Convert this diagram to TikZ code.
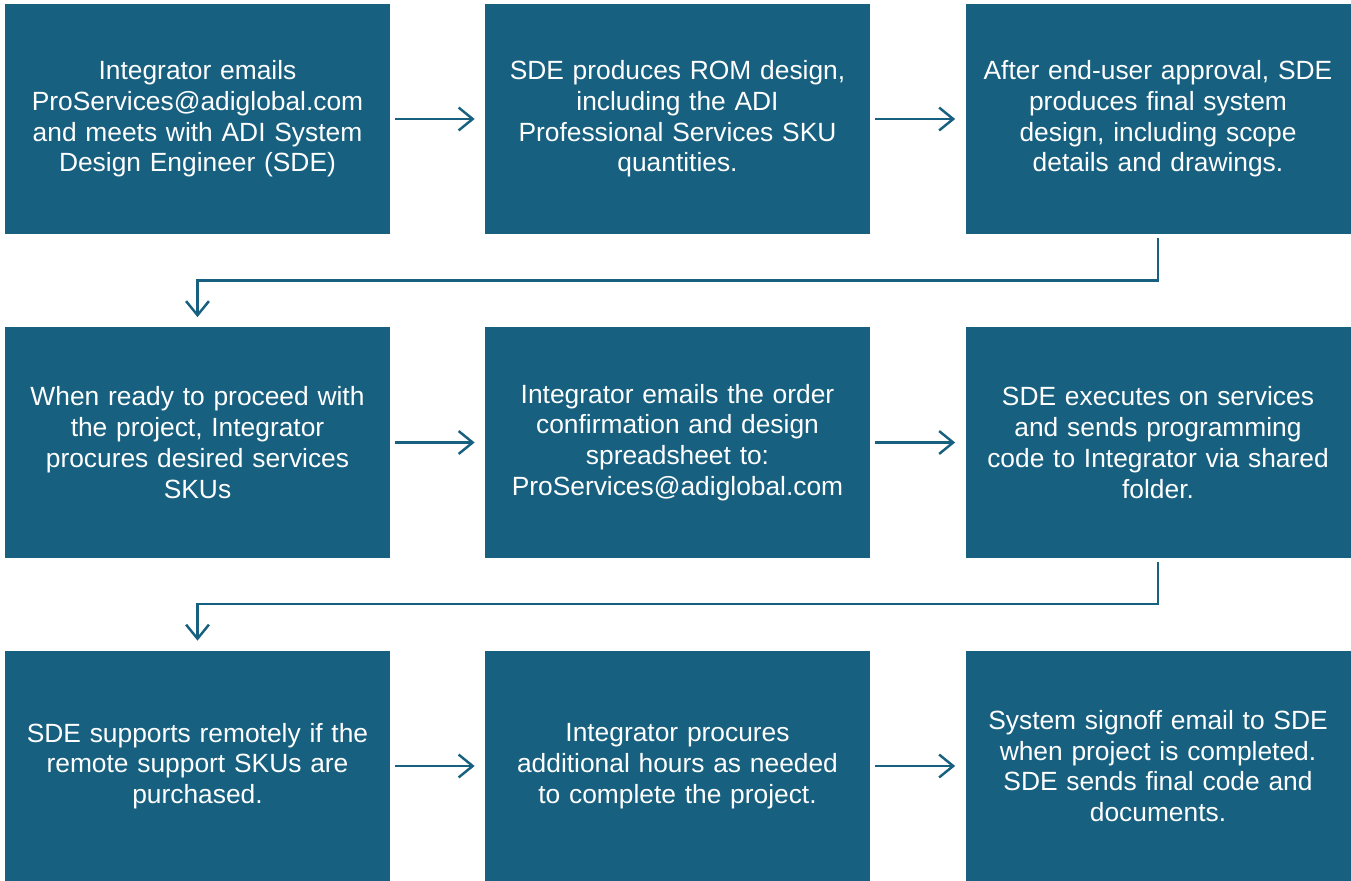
\documentclass[tikz,border=0pt]{standalone}
\usepackage{fontspec}
\setmainfont{Liberation Sans}
\usetikzlibrary{arrows.meta}
\definecolor{adiblue}{RGB}{23,96,128}

\begin{document}
\begin{tikzpicture}[
  stepbox/.style={fill=adiblue, text=white, minimum width=7.7cm, minimum height=4.6cm,
    text width=7.6cm, align=center, inner sep=0pt, font=\fontsize{15}{17.5}\selectfont},
  flow/.style={draw=adiblue, line width=1.4pt, -{Straight Barb[length=8pt,width=13pt]}}
]

\useasboundingbox (0,0) rectangle (27.02,17.6);

% Row 1
\node[stepbox] (a1) at (3.95,15.22) {Integrator emails\\ProServices@adiglobal.com\\and meets with ADI System\\Design Engineer (SDE)};
\node[stepbox] (a2) at (13.55,15.22) {SDE produces ROM design,\\including the ADI\\Professional Services SKU\\quantities.};
\node[stepbox] (a3) at (23.16,15.22) {After end-user approval, SDE\\produces final system\\design, including scope\\details and drawings.};

% Row 2
\node[stepbox] (b1) at (3.95,8.75) {When ready to proceed with\\the project, Integrator\\procures desired services\\SKUs};
\node[stepbox] (b2) at (13.55,8.75) {Integrator emails the order\\confirmation and design\\spreadsheet to:\\ProServices@adiglobal.com};
\node[stepbox] (b3) at (23.16,8.75) {SDE executes on services\\and sends programming\\code to Integrator via shared\\folder.};

% Row 3
\node[stepbox] (c1) at (3.95,2.28) {SDE supports remotely if the\\remote support SKUs are\\purchased.};
\node[stepbox] (c2) at (13.55,2.28) {Integrator procures\\additional hours as needed\\to complete the project.};
\node[stepbox] (c3) at (23.16,2.28) {System signoff email to SDE\\when project is completed.\\SDE sends final code and\\documents.};

% Arrows along each row
\draw[flow, shorten <=0.1cm, shorten >=0.2cm] (a1.east) -- (a2.west);
\draw[flow, shorten <=0.1cm, shorten >=0.2cm] (a2.east) -- (a3.west);
\draw[flow, shorten <=0.1cm, shorten >=0.2cm] (b1.east) -- (b2.west);
\draw[flow, shorten <=0.1cm, shorten >=0.2cm] (b2.east) -- (b3.west);
\draw[flow, shorten <=0.1cm, shorten >=0.2cm] (c1.east) -- (c2.west);
\draw[flow, shorten <=0.1cm, shorten >=0.2cm] (c2.east) -- (c3.west);

% Wrap-around arrows between rows
\draw[flow, shorten <=0.08cm, shorten >=0.2cm] (a3.south) -- ++(0,-0.92) -| (b1.north);
\draw[flow, shorten <=0.08cm, shorten >=0.2cm] (b3.south) -- ++(0,-0.92) -| (c1.north);

\end{tikzpicture}
\end{document}
